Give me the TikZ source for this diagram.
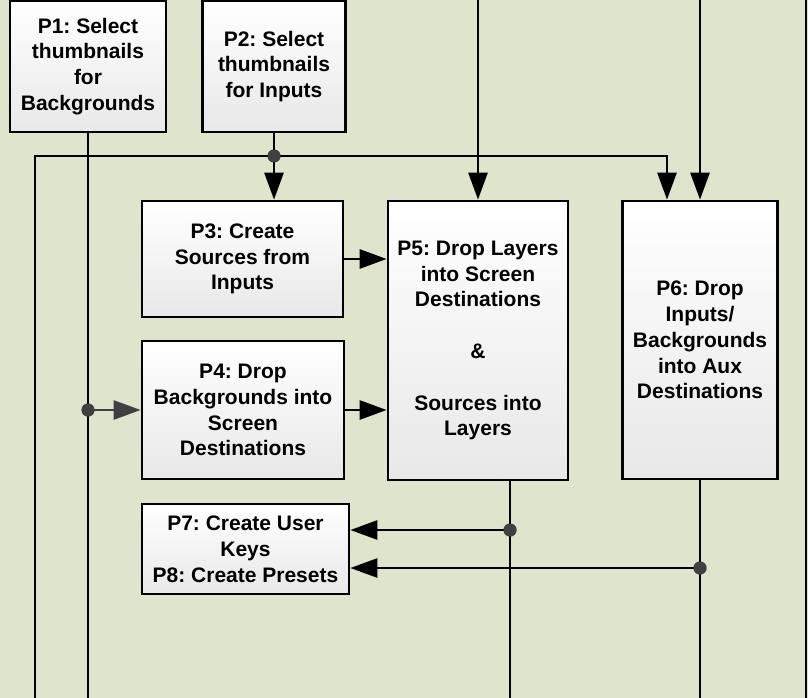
\documentclass[tikz,border=0pt]{standalone}
\usepackage{fontspec}
\setmainfont{Liberation Sans}
\usepackage{xcolor}
\usetikzlibrary{arrows.meta, calc}

\definecolor{bgolive}{RGB}{223,228,205}
\definecolor{dotgray}{RGB}{64,64,64}
\frenchspacing

\begin{document}
\begin{tikzpicture}[x = 1pt, y = -1pt,
		proc/.style = {draw, line width = 2.7pt, top color = white, bottom color = black!9,
			align = center, inner sep = 0pt, font = \fontsize{21}{25.8}\selectfont\bfseries},
		wire/.style = {line width = 2.7pt},
		flow/.style = {wire, -{Triangle[length = 27pt, width = 19pt]}},
		junction/.style = {circle, fill = dotgray, inner sep = 0pt, minimum size = 13pt}]
			\def\W{808};
			\def\H{698};
			\def\bus{156};

			\useasboundingbox (0,0) rectangle (\W,\H);
			\fill [bgolive] (0,0) rectangle (\W,\H);

			% boxes
			\node [proc, minimum width = 156pt, minimum height = 131pt] (p1) at (88,66.5) {P1: Select\\thumbnails\\for\\Backgrounds};
			\node [proc, minimum width = 143pt, minimum height = 131pt] (p2) at (274,66.5) {P2: Select\\thumbnails\\for Inputs};
			\node [proc, minimum width = 201pt, minimum height = 116pt] (p3) at (242.5,259) {P3: Create\\Sources from\\Inputs};
			\node [proc, minimum width = 202pt, minimum height = 138pt] (p4) at (243,410) {P4: Drop\\Backgrounds into\\Screen\\Destinations};
			\node [proc, minimum width = 180pt, minimum height = 279pt] (p5) at (478,340.5) {P5: Drop Layers\\into Screen\\Destinations\\[25.8pt]\&\\[25.8pt]Sources into\\Layers};
			\node [proc, minimum width = 155pt, minimum height = 278pt] (p6) at (700,340) {P6: Drop\\Inputs/\\Backgrounds\\into Aux\\Destinations};
			\node [proc, minimum width = 207pt, minimum height = 90pt] (p7) at (245.5,549) {P7: Create User\\Keys\\P8: Create Presets};

			% free ends
			\coordinate (in5) at (478,0);
			\coordinate (in6) at (700,0);
			\coordinate (edge top) at (806,0);
			\coordinate (edge bottom) at (806,\H);
			\coordinate (bus end) at (35,\H);
			\coordinate (bus corner) at (667,\bus);
			\coordinate (out1) at (88,\H);
			\coordinate (out5) at (510,\H);
			\coordinate (out6) at (700,\H);

			\node [junction] (j2) at (p2.south |- 0,\bus) {};
			\node [junction] (j1) at (88,410) {};
			\node [junction] (j5) at (510,530) {};
			\node [junction] (j6) at (700,568) {};

			\begin{scope}
				\draw [wire] (p1.south) -- (out1);
				\draw [wire] (p2.south) -- (j2.center);
				\draw [flow] (j2.center) -- (j2.center |- p3.north);
				\draw [flow] (bus end) |- (bus corner) -- (bus corner |- p6.north);
				\draw [flow] (in5) -- (p5.north);
				\draw [flow] (in6) -- (p6.north);
				\draw [wire] (edge top) -- (edge bottom);

				\draw [flow] (p3.east) -- (p3.east -| p5.west);
				\draw [flow] (p4.east) -- (p4.east -| p5.west);
				\draw [flow, dotgray] (j1.center) -- (p4.west);

				\draw [wire] (out5 |- p5.south) -- (out5);
				\draw [wire] (p6.south) -- (out6);
				\draw [flow] (j5.center) -- (j5.center -| p7.east);
				\draw [flow] (j6.center) -- (j6.center -| p7.east);
			\end{scope}

			\node [junction] at (j2) {};
			\node [junction] at (j1) {};
			\node [junction] at (j5) {};
			\node [junction] at (j6) {};
		\end{tikzpicture}
\end{document}
